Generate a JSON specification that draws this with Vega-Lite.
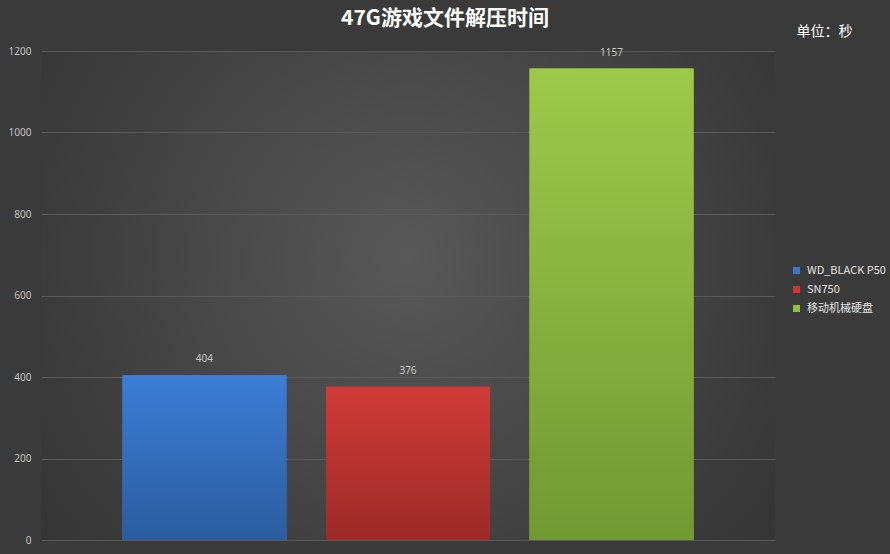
{
  "$schema": "https://vega.github.io/schema/vega-lite/v6.json",
  "description": "47G游戏文件解压时间, bar chart on a dark background",
  "background": "#3a3a3a",
  "autosize": {"type": "none"},
  "padding": {"left": 41, "top": 51, "right": 115, "bottom": 14},
  "width": 734,
  "height": 489,
  "title": {
    "text": "47G游戏文件解压时间",
    "anchor": "middle",
    "dx": 37,
    "offset": -5,
    "font": "Noto Sans CJK SC",
    "fontSize": 21,
    "fontWeight": "bold",
    "color": "#ffffff"
  },
  "data": {
    "values": [
      {"drive": "WD_BLACK P50", "seconds": 404},
      {"drive": "SN750", "seconds": 376},
      {"drive": "移动机械硬盘", "seconds": 1157}
    ]
  },
  "layer": [
    {
      "mark": {"type": "bar"},
      "encoding": {
        "x": {
          "field": "drive",
          "type": "nominal",
          "sort": null,
          "scale": {"paddingInner": 0.194, "paddingOuter": 0.4},
          "axis": null
        },
        "y": {
          "field": "seconds",
          "type": "quantitative",
          "scale": {"domain": [0, 1200], "nice": false},
          "axis": {
            "values": [0, 200, 400, 600, 800, 1000, 1200],
            "format": "d",
            "title": "单位：秒",
            "titleAngle": 0,
            "titleX": 755,
            "titleY": -20,
            "titleAlign": "left",
            "titleBaseline": "middle",
            "titleColor": "#ffffff",
            "titleFont": "Noto Sans CJK SC",
            "titleFontSize": 14,
            "titleFontWeight": "normal",
            "labelColor": "#c4c4c4",
            "labelFont": "Noto Sans",
            "labelFontSize": 10,
            "labelPadding": 10,
            "ticks": false,
            "domain": false,
            "grid": true,
            "gridColor": "#5a5a5a",
            "gridWidth": 1
          }
        },
        "fill": {
          "field": "drive",
          "type": "nominal",
          "sort": null,
          "scale": {"range": ["#3a78cc", "#c93836", "#93bf44"]},
          "legend": {
            "title": null,
            "orient": "none",
            "legendX": 750,
            "legendY": 214,
            "symbolType": "square",
            "symbolSize": 50,
            "symbolStrokeWidth": 0,
            "labelColor": "#e6e6e6",
            "labelFont": "Noto Sans CJK SC",
            "labelFontSize": 11,
            "labelOffset": 5,
            "rowPadding": 7
          }
        }
      }
    },
    {
      "mark": {"type": "bar"},
      "encoding": {
        "x": {"field": "drive", "type": "nominal", "sort": null},
        "y": {"field": "seconds", "type": "quantitative"},
        "fill": {
          "condition": [
            {
              "test": "datum.drive === 'SN750'",
              "value": {
                "gradient": "linear", "x1": 0, "y1": 0, "x2": 0, "y2": 1,
                "stops": [
                  {"offset": 0, "color": "#d03b38"},
                  {"offset": 1, "color": "#9c2a28"}
                ]
              }
            },
            {
              "test": "datum.drive === '移动机械硬盘'",
              "value": {
                "gradient": "linear", "x1": 0, "y1": 0, "x2": 0, "y2": 1,
                "stops": [
                  {"offset": 0, "color": "#9ec94a"},
                  {"offset": 1, "color": "#729834"}
                ]
              }
            }
          ],
          "value": {
            "gradient": "linear", "x1": 0, "y1": 0, "x2": 0, "y2": 1,
            "stops": [
              {"offset": 0, "color": "#3c7dd6"},
              {"offset": 1, "color": "#2b5c9e"}
            ]
          }
        }
      }
    },
    {
      "mark": {
        "type": "text",
        "dy": -16,
        "baseline": "middle",
        "font": "Noto Sans",
        "fontSize": 10,
        "color": "#c8c8c8"
      },
      "encoding": {
        "x": {"field": "drive", "type": "nominal", "sort": null},
        "y": {"field": "seconds", "type": "quantitative"},
        "text": {"field": "seconds", "type": "quantitative"}
      }
    }
  ],
  "config": {
    "view": {
      "stroke": null,
      "fill": {
        "gradient": "radial",
        "x1": 0.5, "y1": 0.45, "r1": 0,
        "x2": 0.5, "y2": 0.45, "r2": 0.72,
        "stops": [
          {"offset": 0, "color": "#585858"},
          {"offset": 0.7, "color": "#3b3b3b"},
          {"offset": 1, "color": "#303030"}
        ]
      }
    }
  }
}
